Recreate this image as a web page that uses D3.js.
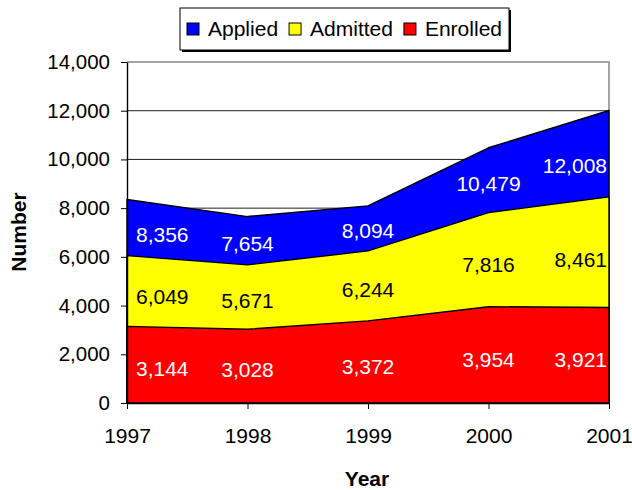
<!DOCTYPE html>
<meta charset="utf-8">
<style>
body { margin: 0; background: #fff; }
text { font-family: "Liberation Sans", Arial, sans-serif; }
</style>
<svg width="632" height="490"></svg>
<script src="https://d3js.org/d3.v7.min.js"></script>
<script>

var years = ["1997", "1998", "1999", "2000", "2001"];
var applied = [8356, 7654, 8094, 10479, 12008];
var admitted = [6049, 5671, 6244, 7816, 8461];
var enrolled = [3144, 3028, 3372, 3954, 3921];
var yTicks = [0, 2000, 4000, 6000, 8000, 10000, 12000, 14000];
var seriesNames = ["Applied", "Admitted", "Enrolled"];
var seriesColors = ["#0000ff", "#ffff00", "#ff0000"];
var labelColors = ["#ffffff", "#000000", "#ffffff"];

var svg = d3.select("svg"),
    margin = {top: 62, right: 23, bottom: 87, left: 127},
    width = +svg.attr("width"),
    height = +svg.attr("height");

var x = d3.scalePoint().domain(years).range([margin.left, width - margin.right]);
var y = d3.scaleLinear().domain([0, 14000]).range([height - margin.bottom, margin.top]);

var series = [applied, admitted, enrolled];

// gridlines
svg.append("g")
  .selectAll("line")
  .data(yTicks.filter(function(d) { return d > 0 && d < 14000; }))
  .enter().append("line")
    .attr("x1", x.range()[0]).attr("x2", x.range()[1])
    .attr("y1", function(d) { return y(d); })
    .attr("y2", function(d) { return y(d); })
    .attr("stroke", "#222").attr("stroke-width", 1);

// plot border (top + right)
svg.append("path")
  .attr("d", "M" + x.range()[0] + "," + y(14000) + "H" + x.range()[1] + "V" + y(0))
  .attr("fill", "none").attr("stroke", "#888").attr("stroke-width", 1.5);

// overlapping areas
var area = d3.area()
    .x(function(d, i) { return x(years[i]); })
    .y0(y(0))
    .y1(function(d) { return y(d); });

svg.append("g")
  .selectAll("path")
  .data(series)
  .enter().append("path")
    .attr("d", area)
    .attr("fill", function(d, i) { return seriesColors[i]; })
    .attr("stroke", "#000")
    .attr("stroke-width", 1.4)
    .attr("stroke-linejoin", "round");

// axes
var yAxis = svg.append("g")
    .attr("transform", "translate(" + margin.left + ",0)")
    .call(d3.axisLeft(y).tickValues(yTicks).tickFormat(d3.format(",")).tickSize(6).tickSizeOuter(0).tickPadding(11));
yAxis.selectAll("text").attr("font-size", 20.5).attr("fill", "#000").attr("font-family", "Liberation Sans, Arial, sans-serif");
yAxis.select(".domain").attr("stroke", "#000").attr("stroke-width", 1.4);
yAxis.selectAll(".tick line").attr("stroke", "#000");

var xAxis = svg.append("g")
    .attr("transform", "translate(0," + y(0) + ")")
    .call(d3.axisBottom(x).tickSize(6).tickSizeOuter(0));
xAxis.selectAll("text")
    .attr("font-size", 21).attr("fill", "#000")
    .attr("font-family", "Liberation Sans, Arial, sans-serif")
    .attr("y", 40).attr("dy", null);
xAxis.select(".domain").attr("stroke", "#000").attr("stroke-width", 1.4);
xAxis.selectAll(".tick line").attr("stroke", "#000");

// axis titles
svg.append("text")
  .attr("x", 367).attr("y", 486)
  .attr("text-anchor", "middle")
  .attr("font-size", 21).attr("font-weight", "bold")
  .text("Year");

svg.append("text")
  .attr("transform", "translate(25.5,232) rotate(-90)")
  .attr("text-anchor", "middle")
  .attr("font-size", 21).attr("font-weight", "bold")
  .text("Number");

// data labels
function valueAt(arr, px) {
  var xs = years.map(function(d) { return x(d); });
  if (px <= xs[0]) return arr[0];
  for (var k = 1; k < xs.length; k++) {
    if (px <= xs[k]) {
      var t = (px - xs[k - 1]) / (xs[k] - xs[k - 1]);
      return arr[k - 1] + t * (arr[k] - arr[k - 1]);
    }
  }
  return arr[arr.length - 1];
}

var zeros = years.map(function() { return 0; });
series.forEach(function(vals, si) {
  var lower = series[si + 1] || zeros;
  vals.forEach(function(v, j) {
    var anchor = j === 0 ? "start" : (j === vals.length - 1 ? "end" : "middle");
    var px = x(years[j]) + (j === 0 ? 9 : (j === vals.length - 1 ? -2 : 0));
    var t = svg.append("text")
      .attr("x", px)
      .attr("text-anchor", anchor)
      .attr("font-size", 21)
      .attr("fill", labelColors[si])
      .text(d3.format(",")(v));
    var w = t.node().getComputedTextLength();
    var cx = anchor === "start" ? px + w / 2 : (anchor === "end" ? px - w / 2 : px);
    var hi = valueAt(vals, cx), lo = valueAt(lower, cx);
    t.attr("y", y(lo + 0.45 * (hi - lo))).attr("dy", "0.36em");
  });
});

// legend
var legend = svg.append("g");
legend.append("rect")
  .attr("x", 182).attr("y", 10).attr("width", 329).attr("height", 42)
  .attr("fill", "#000");
legend.append("rect")
  .attr("x", 180).attr("y", 8).attr("width", 329).attr("height", 42)
  .attr("fill", "#fff").attr("stroke", "#000").attr("stroke-width", 1);

var lx = 187;
seriesNames.forEach(function(name, i) {
  legend.append("rect")
    .attr("x", lx).attr("y", 23).attr("width", 12).attr("height", 12)
    .attr("fill", seriesColors[i]).attr("stroke", "#000").attr("stroke-width", 1);
  var t = legend.append("text")
    .attr("x", lx + 21).attr("y", 36)
    .attr("font-size", 21)
    .text(name);
  lx += 21 + t.node().getComputedTextLength() + 11;
});

</script>
